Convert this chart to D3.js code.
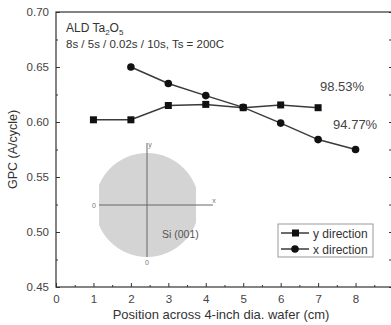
<!DOCTYPE html>
<html>
<head>
<meta charset="utf-8">
<script src="https://cdn.jsdelivr.net/npm/d3@7"></script>
<style>
  body { margin: 0; background: #fff; }
  svg { display: block; font-family: "Liberation Sans", Arial, sans-serif; }
</style>
</head>
<body>
<svg id="chart" width="391" height="325"></svg>
<script>
// data
const positions = [1, 2, 3, 4, 5, 6, 7, 8];
const yDirection = [0.602, 0.602, 0.615, 0.616, 0.613, 0.6155, 0.613, null];
const xDirection = [null, 0.650, 0.635, 0.624, 0.6133, 0.599, 0.584, 0.575];
const xTicks = [0, 1, 2, 3, 4, 5, 6, 7, 8];
const yTicks = [0.45, 0.50, 0.55, 0.60, 0.65, 0.70];
const uniformity = [{ label: '98.53%', x: 7.05, y: 0.628 }, { label: '94.77%', x: 7.4, y: 0.5935 }];

const svg = d3.select('#chart');
const ink = '#333';
const margin = { left: 56, top: 12, right: -2, bottom: 38 };
const width = 391, height = 325;

const x = d3.scaleLinear().domain([0, 9]).range([margin.left, width - margin.right]);
const y = d3.scaleLinear().domain([0.45, 0.70]).range([height - margin.bottom, margin.top]);

// frame
svg.append('rect')
  .attr('x', x(0)).attr('y', y(0.70))
  .attr('width', x(9) - x(0)).attr('height', y(0.45) - y(0.70))
  .attr('fill', 'none').attr('stroke', ink).attr('stroke-width', 1.2);

// axes, ticks pointing inward
svg.append('g')
  .attr('transform', `translate(0,${y(0.45)})`)
  .call(d3.axisBottom(x).tickValues(xTicks).tickSize(-4).tickPadding(8).tickFormat(d3.format('d')));
svg.append('g')
  .attr('transform', `translate(0,${y(0.45)})`)
  .call(d3.axisBottom(x).tickValues(d3.range(0.5, 9, 1)).tickSize(-2).tickFormat(''));
svg.append('g')
  .attr('transform', `translate(${x(0)},0)`)
  .call(d3.axisLeft(y).tickValues(yTicks).tickSize(-4).tickPadding(7).tickFormat(d3.format('.2f')));
svg.append('g')
  .attr('transform', `translate(${x(0)},0)`)
  .call(d3.axisLeft(y).tickValues(d3.range(0.475, 0.70, 0.05)).tickSize(-2).tickFormat(''));
svg.append('g')
  .attr('transform', `translate(${x(9)},0)`)
  .call(d3.axisRight(y).tickValues(yTicks.concat(d3.range(0.475, 0.70, 0.05))).tickSize(-4).tickFormat(''));

svg.selectAll('.domain').remove();
svg.selectAll('.tick line').attr('stroke', ink);
svg.selectAll('.tick text').attr('fill', '#444').style('font-size', '11.5px');

// axis titles
svg.append('text')
  .attr('x', 221).attr('y', 319)
  .attr('text-anchor', 'middle').attr('fill', '#333')
  .style('font-size', '13px')
  .text('Position across 4-inch dia. wafer (cm)');
svg.append('text')
  .attr('transform', `translate(17,${y(0.575)}) rotate(-90)`)
  .attr('text-anchor', 'middle').attr('fill', '#333')
  .style('font-size', '12.5px')
  .text('GPC (A/cycle)');

// annotation
const note = svg.append('text').attr('x', 66).attr('y', 32).attr('fill', '#333').style('font-size', '12px');
note.append('tspan').text('ALD Ta');
note.append('tspan').attr('dy', 3).style('font-size', '8px').text('2');
note.append('tspan').attr('dy', -3).text('O');
note.append('tspan').attr('dy', 3).style('font-size', '8px').text('5');
svg.append('text').attr('x', 66).attr('y', 48).attr('fill', '#333').style('font-size', '11.5px')
  .text('8s / 5s / 0.02s / 10s, Ts = 200C');

// wafer inset
const cx = 147, cy = 205, r = 52;
svg.append('clipPath').attr('id', 'flat')
  .append('rect').attr('x', cx - 48).attr('y', cy - r).attr('width', 97).attr('height', 2 * r);
svg.append('circle')
  .attr('cx', cx).attr('cy', cy).attr('r', r)
  .attr('fill', '#d4d4d4').attr('clip-path', 'url(#flat)');
svg.append('line').attr('x1', cx - 48).attr('x2', cx + 66).attr('y1', cy).attr('y2', cy)
  .attr('stroke', '#666').attr('stroke-width', 1);
svg.append('line').attr('x1', cx).attr('x2', cx).attr('y1', cy - 62).attr('y2', cy + 52)
  .attr('stroke', '#666').attr('stroke-width', 1);
[['0', cx - 53, cy + 2.5], ['0', cx, cy + 60], ['x', cx + 67, cy - 2], ['y', cx + 3, cy - 58]].forEach(([t, tx, ty]) => {
  svg.append('text').attr('x', tx).attr('y', ty).attr('text-anchor', 'middle')
    .attr('fill', '#777').style('font-size', '7px').text(t);
});
svg.append('text').attr('x', 162).attr('y', 238).attr('fill', '#555').style('font-size', '10.5px').text('Si (001)');

// series
const line = d3.line()
  .defined(d => d[1] !== null)
  .x(d => x(d[0])).y(d => y(d[1]));
const ySeries = positions.map((p, i) => [p, yDirection[i]]);
const xSeries = positions.map((p, i) => [p, xDirection[i]]);

[ySeries, xSeries].forEach(s => {
  svg.append('path').datum(s).attr('d', line)
    .attr('fill', 'none').attr('stroke', '#3a3a3a').attr('stroke-width', 1.5);
});
svg.selectAll('.sq').data(ySeries.filter(d => d[1] !== null)).enter().append('rect')
  .attr('x', d => x(d[0]) - 3.5).attr('y', d => y(d[1]) - 3.5)
  .attr('width', 7).attr('height', 7).attr('fill', '#111');
svg.selectAll('.dot').data(xSeries.filter(d => d[1] !== null)).enter().append('circle')
  .attr('cx', d => x(d[0])).attr('cy', d => y(d[1])).attr('r', 3.8).attr('fill', '#111');

uniformity.forEach(u => {
  svg.append('text').attr('x', x(u.x)).attr('y', y(u.y))
    .attr('fill', '#444').style('font-size', '13px').text(u.label);
});

// legend
const lg = svg.append('g').attr('transform', 'translate(278,224)');
lg.append('rect').attr('width', 95).attr('height', 33)
  .attr('fill', '#fff').attr('stroke', '#999').attr('stroke-width', 1);
[['y direction', 'square'], ['x direction', 'circle']].forEach(([name, shape], i) => {
  const row = lg.append('g').attr('transform', `translate(0,${9 + i * 16})`);
  row.append('line').attr('x1', 3).attr('x2', 31).attr('stroke', '#3a3a3a').attr('stroke-width', 1.5);
  if (shape === 'square') {
    row.append('rect').attr('x', 14).attr('y', -3.5).attr('width', 7).attr('height', 7).attr('fill', '#111');
  } else {
    row.append('circle').attr('cx', 17).attr('r', 3.8).attr('fill', '#111');
  }
  row.append('text').attr('x', 35).attr('y', 4.5).attr('fill', '#333')
    .style('font-size', '12px').text(name);
});
</script>
</body>
</html>
